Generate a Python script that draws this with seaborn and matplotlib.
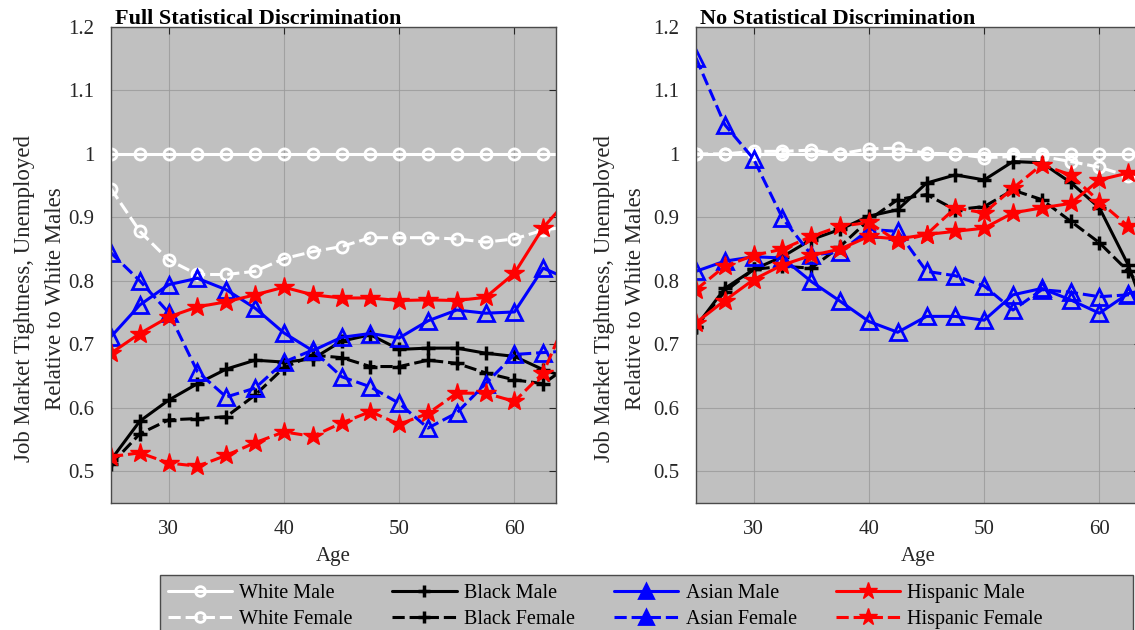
import numpy as np
import pandas as pd
import matplotlib
matplotlib.use("Agg")
import matplotlib.pyplot as plt
from matplotlib.patches import Rectangle
import seaborn as sns

# Ages at which the relative tightness is reported
ages = [25, 27.5, 30, 32.5, 35, 37.5, 40, 42.5, 45, 47.5, 50, 52.5, 55, 57.5, 60, 62.5, 65]

# Full statistical discrimination
full_white_male = [1.0] * 17
full_white_female = [0.945, 0.878, 0.833, 0.810, 0.810, 0.815, 0.835, 0.846, 0.854, 0.868,
                     0.868, 0.868, 0.866, 0.861, 0.866, 0.880, 0.886]
full_black_male = [0.518, 0.579, 0.612, 0.638, 0.661, 0.675, 0.672, 0.677, 0.705, 0.715,
                   0.692, 0.694, 0.694, 0.686, 0.681, 0.660, 0.645]
full_black_female = [0.511, 0.559, 0.581, 0.583, 0.586, 0.620, 0.663, 0.683, 0.679, 0.665,
                     0.665, 0.675, 0.670, 0.655, 0.644, 0.638, 0.670]
full_asian_male = [0.712, 0.762, 0.794, 0.804, 0.786, 0.757, 0.718, 0.690, 0.711, 0.717,
                   0.710, 0.737, 0.754, 0.749, 0.751, 0.820, 0.800]
full_asian_female = [0.844, 0.800, 0.750, 0.657, 0.617, 0.631, 0.672, 0.691, 0.649, 0.633,
                     0.607, 0.568, 0.592, 0.638, 0.684, 0.687, 0.690]
full_hisp_male = [0.686, 0.717, 0.743, 0.759, 0.767, 0.778, 0.790, 0.778, 0.773, 0.773,
                  0.769, 0.770, 0.769, 0.774, 0.812, 0.884, 0.935]
full_hisp_female = [0.523, 0.529, 0.513, 0.508, 0.525, 0.545, 0.562, 0.555, 0.576, 0.594,
                    0.574, 0.591, 0.623, 0.623, 0.610, 0.655, 0.760]

# No statistical discrimination
none_white_male = [1.0] * 17
none_white_female = [1.000, 1.000, 1.004, 1.004, 1.006, 1.000, 1.008, 1.009, 1.001, 1.000,
                     0.994, 0.996, 0.996, 0.988, 0.979, 0.965, 0.950]
none_black_male = [0.728, 0.788, 0.818, 0.838, 0.865, 0.881, 0.902, 0.912, 0.954, 0.967,
                   0.959, 0.988, 0.986, 0.955, 0.915, 0.825, 0.700]
none_black_female = [0.728, 0.783, 0.818, 0.823, 0.820, 0.854, 0.896, 0.928, 0.936, 0.912,
                     0.917, 0.943, 0.928, 0.894, 0.860, 0.815, 0.760]
none_asian_male = [0.815, 0.831, 0.838, 0.836, 0.799, 0.768, 0.736, 0.719, 0.744, 0.744,
                   0.738, 0.778, 0.788, 0.770, 0.749, 0.780, 0.790]
none_asian_female = [1.151, 1.046, 0.992, 0.899, 0.841, 0.845, 0.881, 0.878, 0.815, 0.808,
                     0.792, 0.754, 0.786, 0.782, 0.775, 0.778, 0.780]
none_hisp_male = [0.734, 0.769, 0.802, 0.825, 0.840, 0.850, 0.870, 0.866, 0.873, 0.878,
                  0.883, 0.907, 0.915, 0.922, 0.959, 0.970, 0.960]
none_hisp_female = [0.786, 0.823, 0.840, 0.850, 0.870, 0.886, 0.892, 0.862, 0.873, 0.915,
                    0.907, 0.946, 0.983, 0.967, 0.925, 0.886, 0.860]

groups = ["White Male", "White Female", "Black Male", "Black Female",
          "Asian Male", "Asian Female", "Hispanic Male", "Hispanic Female"]
panel_titles = ["Full Statistical Discrimination", "No Statistical Discrimination"]
panel_series = [
    [full_white_male, full_white_female, full_black_male, full_black_female,
     full_asian_male, full_asian_female, full_hisp_male, full_hisp_female],
    [none_white_male, none_white_female, none_black_male, none_black_female,
     none_asian_male, none_asian_female, none_hisp_male, none_hisp_female],
]

y_ticks = [0.5, 0.6, 0.7, 0.8, 0.9, 1.0, 1.1, 1.2]
y_tick_labels = ["0.5", "0.6", "0.7", "0.8", "0.9", "1", "1.1", "1.2"]
x_ticks = [30, 40, 50, 60]

# Line appearance per group
colors = {"White": "white", "Black": "black", "Asian": "#0000ff", "Hispanic": "#ff0000"}
marker_style = {
    "White": dict(marker="o", markersize=8, markerfacecolor="none", markeredgewidth=2.0),
    "Black": dict(marker="+", markersize=10, markeredgewidth=2.5),
    "Asian": dict(marker="^", markersize=11, markerfacecolor="none", markeredgewidth=2.0),
    "Hispanic": dict(marker="*", markersize=15, markeredgewidth=1.0),
}
legend_marker_size = {"White": 7, "Black": 9, "Asian": 10, "Hispanic": 13}
female_dashes = [4, 1.6]

sns.set_theme(style="white")
plt.rcParams["font.family"] = ["Liberation Serif", "DejaVu Serif"]

fig = plt.figure(figsize=(11.35, 6.3), dpi=100)
axes = [fig.add_axes([0.0978, 0.2016, 0.392, 0.7556]),
        fig.add_axes([0.6132, 0.2016, 0.392, 0.7556])]
label_x = [-0.102, -0.113]

text_color = "#262626"
for ax, title, series, lx in zip(axes, panel_titles, panel_series, label_x):
    ax.set_facecolor("#c0c0c0")
    for name, values in zip(groups, series):
        race, sex = name.split()
        df = pd.DataFrame({"Age": ages, "Value": values})
        col = colors[race]
        kw = dict(marker_style[race])
        if race == "Hispanic":
            kw["markerfacecolor"] = col
        sns.lineplot(data=df, x="Age", y="Value", ax=ax, sort=False, color=col,
                     linewidth=2.2, markeredgecolor=col, legend=False, **kw)
        line = ax.get_lines()[-1]
        if sex == "Female":
            line.set_dashes(female_dashes)
    ax.set_xlim(25, 63.6)
    ax.set_ylim(0.45, 1.2)
    ax.set_xticks(x_ticks)
    ax.set_yticks(y_ticks)
    ax.set_yticklabels(y_tick_labels)
    ax.grid(True, color="#9a9a9a", linewidth=0.8, alpha=0.8)
    ax.set_axisbelow(True)
    ax.tick_params(axis="both", direction="in", length=5, width=0.8, colors=text_color,
                   labelsize=15, top=True, right=True, pad=12)
    for sp in ax.spines.values():
        sp.set_color("#4a4a4a")
        sp.set_linewidth(1.0)
    ax.set_xlabel("Age", fontsize=15, color=text_color, labelpad=6)
    ax.set_ylabel("Job Market Tightness, Unemployed\nRelative to White Males",
                  fontsize=16.5, color=text_color, linespacing=1.6)
    ax.yaxis.set_label_coords(lx, 0.43)
    ax.set_title(title, fontsize=16, fontweight="bold", loc="left", pad=2,
                 color="black", x=0.01)

# Grey box holding the shared legend under both panels
fig.patches.append(Rectangle((160 / 1135, -0.02), (1133 - 160) / 1135, 0.0873 + 0.02,
                             transform=fig.transFigure, facecolor="#c0c0c0",
                             edgecolor="#4a4a4a", linewidth=1.0, zorder=0))

leg_handles = []
for name in groups:
    race, sex = name.split()
    col = colors[race]
    proxy = plt.Line2D([], [], color=col, linewidth=2.2,
                       marker=marker_style[race]["marker"],
                       markersize=legend_marker_size[race],
                       markerfacecolor=("none" if race == "White" else col),
                       markeredgecolor=col,
                       markeredgewidth=marker_style[race]["markeredgewidth"])
    if sex == "Female":
        proxy.set_dashes(female_dashes)
    leg_handles.append(proxy)

leg = fig.legend(leg_handles, groups, ncol=4, loc="center left",
                 bbox_to_anchor=(168 / 1135, 0.0373), fontsize=14.5, frameon=False,
                 handlelength=3.2, handletextpad=0.35, columnspacing=1.95,
                 borderpad=0, labelspacing=0.3, borderaxespad=0)
for t in leg.get_texts():
    t.set_color("black")

fig.savefig("out.png", dpi=100)
